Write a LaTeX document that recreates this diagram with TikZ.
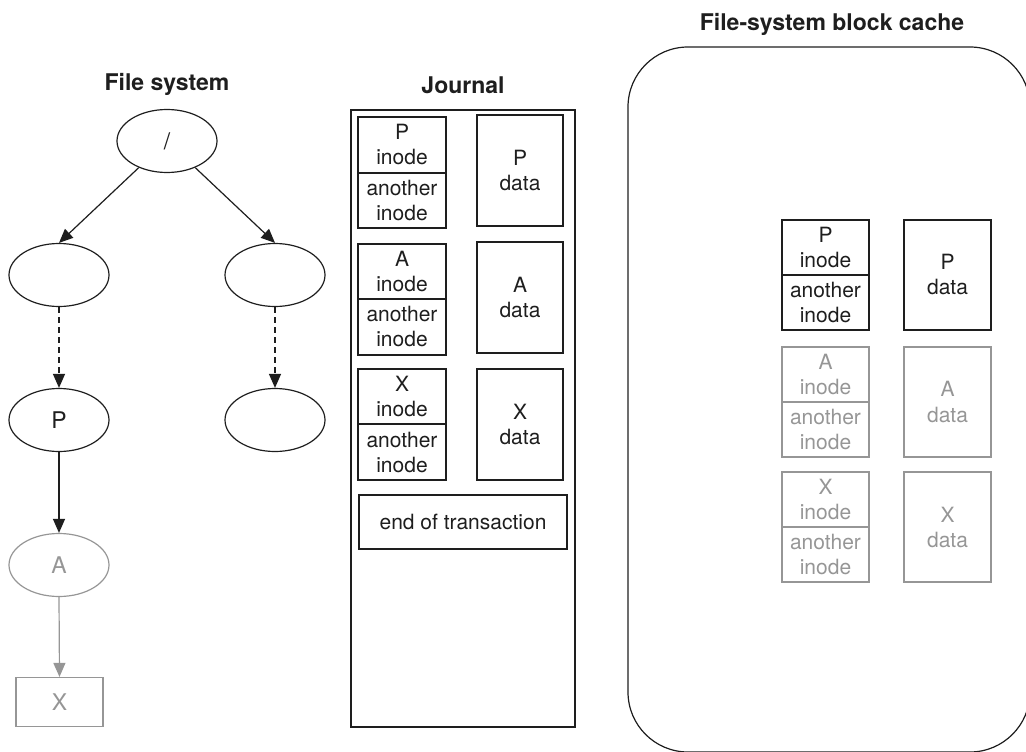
\documentclass[tikz,border=0pt]{standalone}
\usepackage{fontspec}
\setmainfont{TeX Gyre Heros}
\usetikzlibrary{shapes.geometric,arrows.meta}
\definecolor{fg}{RGB}{30,30,30}
\definecolor{lt}{RGB}{150,150,150}
\tikzset{
  txt/.style={font=\fontsize{21}{25}\selectfont, align=center, inner sep=0pt},
  ttl/.style={font=\fontsize{23}{26}\selectfont\bfseries, text=fg, inner sep=0pt},
  oval/.style={ellipse, draw=fg, line width=1.2pt, minimum width=100pt, minimum height=63pt, txt, font=\fontsize{23}{26}\selectfont, text=fg},
  lightoval/.style={oval, draw=lt, text=lt},
  blk/.style={rectangle, draw=fg, line width=1.2pt, txt, text=fg},
  lightblk/.style={blk, draw=lt, text=lt},
  arr/.style={draw=fg, line width=1.2pt, -{Triangle[length=14pt,width=12pt]}},
  lightarr/.style={draw=lt, line width=1.2pt, -{Triangle[length=14pt,width=12pt]}},
  dasharr/.style={arr, dash pattern=on 6pt off 4pt},
}
\begin{document}
\begin{tikzpicture}[x=1pt,y=-1pt]
\useasboundingbox (0,0) rectangle (1026,752);
% titles
\node[ttl] (t1) at (167,84) {File system};
\node[ttl] (t2) at (463,85) {Journal};
\node[ttl] (t3) at (832,24) {File-system block cache};
% tree
\node[oval] (root) at (167,141) {/};
\node[oval] (lc) at (59,275) {};
\node[oval] (rc) at (275,275) {};
\node[oval] (p) at (59,420) {P};
\node[oval] (rg) at (275,420) {};
\node[lightoval] (a) at (59,565) {A};
\node[lightblk, minimum width=87pt, minimum height=49pt, font=\fontsize{23}{26}\selectfont] (x) at (59.5,702) {X};
\draw[arr] (root) -- (lc.north);
\draw[arr] (root) -- (rc.north);
\draw[dasharr] (lc.south) -- (p.north);
\draw[dasharr] (rc.south) -- (rg.north);
\draw[arr] (p.south) -- (a.north);
\draw[lightarr] (a.south) -- (x.north);
% journal
\node[draw=fg, line width=1.2pt, minimum width=224pt, minimum height=617pt, inner sep=0pt] (journal) at (463,418.5) {};
\node[blk, minimum width=88pt, minimum height=56pt] (jpi) at (402,145) {P\\inode};
\node[blk, minimum width=88pt, minimum height=55pt] (jpo) at (402,200.5) {another\\inode};
\node[blk, minimum width=86pt, minimum height=111pt] (jpd) at (520,170.5) {P\\data};
\node[blk, minimum width=88pt, minimum height=55pt] (jai) at (402,271.5) {A\\inode};
\node[blk, minimum width=88pt, minimum height=56pt] (jao) at (402,327) {another\\inode};
\node[blk, minimum width=86pt, minimum height=111pt] (jad) at (520,297.5) {A\\data};
\node[blk, minimum width=88pt, minimum height=55pt] (jxi) at (402,396.5) {X\\inode};
\node[blk, minimum width=88pt, minimum height=56pt] (jxo) at (402,452) {another\\inode};
\node[blk, minimum width=86pt, minimum height=111pt] (jxd) at (520,424.5) {X\\data};
\node[blk, minimum width=208pt, minimum height=54pt] (eot) at (463,522) {end of transaction};
% cache
\draw[fg, line width=1.2pt, rounded corners=60pt] (628,47) rectangle (1030,752);
\node[blk, minimum width=87pt, minimum height=55pt] (cpi) at (825.5,247.5) {P\\inode};
\node[blk, minimum width=87pt, minimum height=55pt] (cpo) at (825.5,302.5) {another\\inode};
\node[blk, minimum width=87pt, minimum height=110pt] (cpd) at (947.5,275) {P\\data};
\node[lightblk, minimum width=87pt, minimum height=55pt] (cai) at (825.5,374.5) {A\\inode};
\node[lightblk, minimum width=87pt, minimum height=55pt] (cao) at (825.5,429.5) {another\\inode};
\node[lightblk, minimum width=87pt, minimum height=110pt] (cad) at (947.5,402) {A\\data};
\node[lightblk, minimum width=87pt, minimum height=55pt] (cxi) at (825.5,499.5) {X\\inode};
\node[lightblk, minimum width=87pt, minimum height=55pt] (cxo) at (825.5,554.5) {another\\inode};
\node[lightblk, minimum width=87pt, minimum height=110pt] (cxd) at (947.5,527) {X\\data};
\end{tikzpicture}
\end{document}
